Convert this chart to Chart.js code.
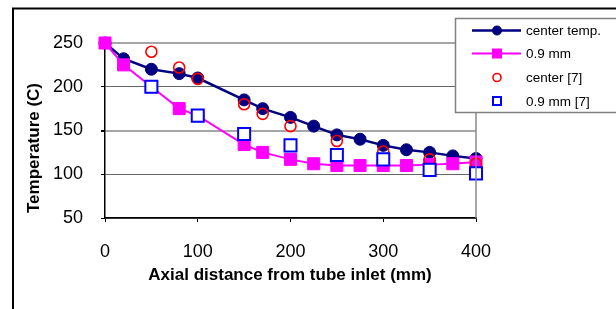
<!DOCTYPE html>
<html>
<head>
<meta charset="utf-8">
<script src="https://cdn.jsdelivr.net/npm/chart.js@4.4.1/dist/chart.umd.min.js"></script>
<style>
  html, body { margin: 0; padding: 0; background: #fff; }
  canvas { display: block; }
</style>
</head>
<body>
<canvas id="c" width="616" height="309"></canvas>
<script>
// ---- data ----
const centerX    = [0, 20, 50, 80, 100, 150, 170, 200, 225, 250, 275, 300, 325, 350, 375, 400];
const centerTemp = [250, 232, 220, 215, 210, 185, 175, 165, 155, 145, 140, 133, 128, 125, 121, 118];

const mmX        = [0, 20, 50, 80, 100, 150, 170, 200, 225, 250, 275, 300, 325, 350, 375, 400];
const mmTemp     = [250, 225, 200, 175, 167, 134, 125, 117, 112, 110, 110, 110, 110, 111, 112, 114];

const refCenterX = [50, 80, 100, 150, 170, 200, 250, 300, 350, 400];
const refCenter  = [240, 222, 209, 180, 169, 155, 138, 126, 117, 112];

const refMmX     = [50, 100, 150, 200, 250, 300, 350, 400];
const refMm      = [200, 167, 146, 133, 122, 117, 105, 101];

const seriesNames = ['center temp.', '0.9 mm', 'center [7]', '0.9 mm [7]'];
const xTitle = 'Axial distance from tube inlet (mm)';
const yTitle = 'Temperature (C)';

function pts(xs, ys) { return xs.map((x, i) => ({ x: x, y: ys[i] })); }

const FONT = 'Arial, "Liberation Sans", sans-serif';

const decorPlugin = {
  id: 'decor',
  beforeDraw(chart) {
    const ctx = chart.ctx;
    ctx.save();
    ctx.fillStyle = '#fff';
    ctx.fillRect(0, 0, chart.width, chart.height);
    ctx.strokeStyle = '#000';
    ctx.lineWidth = 2;
    ctx.strokeRect(13, 8.5, 640, 340);
    ctx.restore();
  },
  afterDraw(chart) {
    const ctx = chart.ctx;
    const a = chart.chartArea;
    ctx.save();
    // right edge of plot area
    ctx.strokeStyle = '#888';
    ctx.lineWidth = 1.5;
    ctx.beginPath();
    ctx.moveTo(a.right, a.top);
    ctx.lineTo(a.right, a.bottom);
    ctx.stroke();

    // axis titles
    ctx.fillStyle = '#000';
    ctx.font = 'bold 17px ' + FONT;
    ctx.textAlign = 'center';
    ctx.textBaseline = 'middle';
    ctx.fillText(xTitle, (a.left + a.right) / 2 - 0.5, 275);
    ctx.translate(34, 148);
    ctx.rotate(-Math.PI / 2);
    ctx.fillText(yTitle, 0, 0);
    ctx.restore();

    // legend
    ctx.save();
    ctx.fillStyle = '#fff';
    ctx.fillRect(455.5, 18.5, 200, 94);
    ctx.strokeStyle = '#808080';
    ctx.lineWidth = 1.5;
    ctx.strokeRect(455.5, 18.5, 200, 94);
    const rows = [30.5, 53.5, 77.5, 101];
    ctx.font = '13.5px ' + FONT;
    ctx.textAlign = 'left';
    ctx.textBaseline = 'middle';
    chart.data.datasets.forEach((ds, i) => {
      const y = rows[i];
      if (ds.showLine) {
        ctx.strokeStyle = ds.borderColor;
        ctx.lineWidth = ds.borderWidth;
        ctx.beginPath();
        ctx.moveTo(472, y);
        ctx.lineTo(521, y);
        ctx.stroke();
      }
      const style = ds.pointStyle;
      ctx.lineWidth = ds.pointBorderWidth;
      ctx.strokeStyle = ds.pointBorderColor;
      ctx.fillStyle = ds.pointBackgroundColor;
      if (style === 'circle') {
        ctx.beginPath();
        ctx.arc(497, y, ds.showLine ? 4.5 : 4, 0, Math.PI * 2);
        ctx.fill();
        ctx.stroke();
      } else {
        const s = ds.showLine ? 9 : 8;
        ctx.fillRect(497 - s / 2, y - s / 2, s, s);
        ctx.strokeRect(497 - s / 2, y - s / 2, s, s);
      }
      ctx.fillStyle = '#000';
      ctx.fillText(seriesNames[i], 526, y + 1);
    });
    ctx.restore();
  }
};

const gridColor = (ctx) => {
  const v = ctx.tick && ctx.tick.value;
  return (v === 250 || v === 150) ? '#a6a6a6' : '#666';
};
const gridWidth = (ctx) => {
  const v = ctx.tick && ctx.tick.value;
  return (v === 250 || v === 150) ? 2 : 1;
};

new Chart(document.getElementById('c'), {
  type: 'scatter',
  data: {
    datasets: [
      {
        label: seriesNames[0],
        data: pts(centerX, centerTemp),
        showLine: true,
        borderColor: '#000080',
        borderWidth: 2.5,
        pointStyle: 'circle',
        pointRadius: 6,
        pointBackgroundColor: '#000080',
        pointBorderColor: '#000080',
        pointBorderWidth: 1,
        order: 4,
        clip: false
      },
      {
        label: seriesNames[1],
        data: pts(mmX, mmTemp),
        showLine: true,
        borderColor: '#FF00FF',
        borderWidth: 2,
        pointStyle: 'rect',
        pointRadius: 8.5,
        pointBackgroundColor: '#FF00FF',
        pointBorderColor: '#FF00FF',
        pointBorderWidth: 1,
        order: 3,
        clip: false
      },
      {
        label: seriesNames[2],
        data: pts(refCenterX, refCenter),
        showLine: false,
        borderColor: '#FF0000',
        pointStyle: 'circle',
        pointRadius: 5.5,
        pointBackgroundColor: 'rgba(0,0,0,0)',
        pointBorderColor: '#FF0000',
        pointBorderWidth: 1.6,
        order: 2,
        clip: false
      },
      {
        label: seriesNames[3],
        data: pts(refMmX, refMm),
        showLine: false,
        borderColor: '#0000FF',
        pointStyle: 'rect',
        pointRadius: 8.5,
        pointBackgroundColor: '#FFFFFF',
        pointBorderColor: '#0000FF',
        pointBorderWidth: 2,
        order: 1,
        clip: false
      }
    ]
  },
  options: {
    responsive: false,
    animation: false,
    devicePixelRatio: 1,
    layout: { padding: { left: 0, top: 43, right: 140, bottom: 0 } },
    plugins: {
      legend: { display: false },
      title: { display: false },
      tooltip: { enabled: false }
    },
    scales: {
      x: {
        type: 'linear',
        min: 0,
        max: 400,
        ticks: {
          stepSize: 100,
          color: '#000',
          font: { family: FONT, size: 18 },
          padding: 19,
          maxRotation: 0
        },
        grid: {
          drawOnChartArea: false,
          drawTicks: true,
          tickLength: 4,
          tickColor: '#000'
        },
        border: { display: true, color: '#000', width: 1.5 },
        afterFit(scale) { scale.height = 91; }
      },
      y: {
        type: 'linear',
        min: 50,
        max: 250,
        ticks: {
          stepSize: 50,
          color: '#000',
          font: { family: FONT, size: 18 },
          padding: 18
        },
        grid: {
          drawOnChartArea: true,
          drawTicks: true,
          tickLength: 4,
          tickColor: '#000',
          color: gridColor,
          lineWidth: gridWidth
        },
        border: { display: true, color: '#000', width: 1.5 },
        afterFit(scale) { scale.width = 105; }
      }
    }
  },
  plugins: [decorPlugin]
});
</script>
</body>
</html>
